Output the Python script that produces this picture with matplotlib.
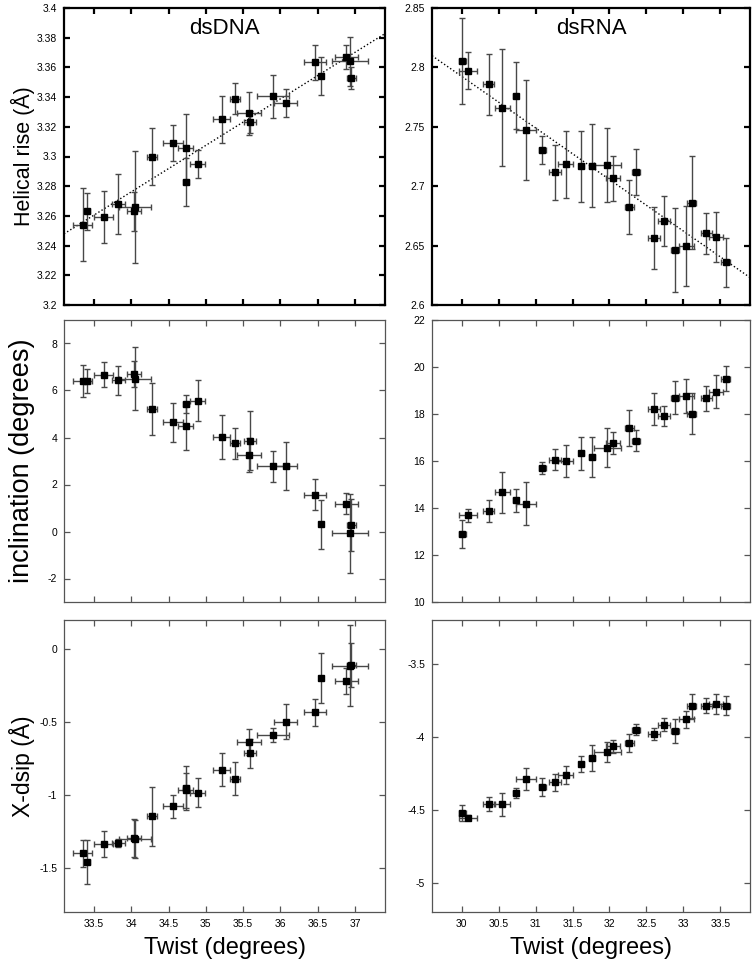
import numpy as np
import matplotlib.pyplot as plt
from matplotlib.ticker import FuncFormatter

plt.rcParams['font.family'] = ['Liberation Sans', 'DejaVu Sans']

# dsDNA (left column), twist is shared by the three panels
dna_twist = [33.35, 33.41, 33.63, 33.83, 34.04, 34.05, 34.28, 34.56, 34.73, 34.74, 34.89,
             35.21, 35.39, 35.58, 35.59, 35.90, 36.07, 36.46, 36.54, 36.88, 36.93, 36.95]
dna_twist_err = [0.125, 0.04, 0.127, 0.085, 0.09, 0.21, 0.07, 0.13, 0.10, 0.04, 0.10,
                 0.11, 0.067, 0.156, 0.085, 0.21, 0.156, 0.147, 0.03, 0.156, 0.24, 0.055]
dna_rise = [3.254, 3.263, 3.259, 3.268, 3.263, 3.266, 3.300, 3.309, 3.3055, 3.283, 3.295,
            3.325, 3.339, 3.329, 3.323, 3.3405, 3.336, 3.3635, 3.354, 3.367, 3.364, 3.353]
dna_rise_err = [0.0245, 0.0125, 0.0175, 0.020, 0.013, 0.0375, 0.019, 0.012, 0.023, 0.016, 0.0095,
                0.016, 0.0103, 0.0146, 0.0075, 0.0145, 0.0095, 0.0118, 0.0127, 0.0084, 0.0165, 0.0075]
dna_incl = [6.40, 6.40, 6.68, 6.44, 6.72, 6.51, 5.21, 4.64, 4.48, 5.42, 5.56,
            4.03, 3.745, 3.25, 3.86, 2.78, 2.78, 1.57, 0.30, 1.19, -0.085, 0.27]
dna_incl_err = [0.67, 0.50, 0.55, 0.62, 0.55, 1.32, 1.10, 0.82, 1.00, 0.39, 0.87,
                0.94, 0.64, 0.73, 1.26, 0.66, 1.03, 0.66, 1.04, 0.43, 1.68, 1.10]
dna_xdisp = [-1.399, -1.459, -1.333, -1.328, -1.29, -1.30, -1.145, -1.076, -0.966, -0.948, -0.982,
             -0.824, -0.886, -0.634, -0.714, -0.589, -0.497, -0.433, -0.199, -0.218, -0.112, -0.108]
dna_xdisp_err = [0.09, 0.15, 0.09, 0.03, 0.13, 0.13, 0.20, 0.08, 0.12, 0.15, 0.10,
                 0.11, 0.115, 0.09, 0.10, 0.05, 0.12, 0.09, 0.17, 0.09, 0.28, 0.15]

# dsRNA (right column)
rna_twist = [30.01, 30.09, 30.37, 30.55, 30.73, 30.87, 31.09, 31.26, 31.41, 31.62, 31.76, 31.97,
             32.05, 32.27, 32.36, 32.60, 32.74, 32.89, 33.04, 33.11, 33.31, 33.44, 33.57]
rna_twist_err = [0.05, 0.12, 0.075, 0.10, 0.03, 0.14, 0.045, 0.08, 0.10, 0.03, 0.04, 0.18,
                 0.095, 0.055, 0.05, 0.085, 0.08, 0.055, 0.10, 0.06, 0.075, 0.10, 0.06]
rna_rise = [2.8054, 2.7973, 2.7857, 2.7661, 2.7762, 2.7473, 2.7305, 2.7117, 2.7184, 2.7167, 2.7173, 2.7181,
            2.7066, 2.6828, 2.712, 2.6564, 2.671, 2.6463, 2.6497, 2.6861, 2.6603, 2.657, 2.6359]
rna_rise_err = [0.0366, 0.0156, 0.026, 0.049, 0.028, 0.042, 0.012, 0.023, 0.028, 0.030, 0.035, 0.031,
                0.019, 0.0227, 0.019, 0.026, 0.021, 0.035, 0.034, 0.039, 0.0175, 0.021, 0.0206]
rna_incl = [12.91, 13.69, 13.875, 14.66, 14.33, 14.19, 15.71, 16.06, 15.99, 16.33, 16.19, 16.57,
            16.77, 17.40, 16.86, 18.21, 17.92, 18.69, 18.78, 18.02, 18.66, 18.95, 19.51]
rna_incl_err = [0.60, 0.27, 0.46, 0.87, 0.48, 0.92, 0.26, 0.44, 0.67, 0.71, 0.85, 0.82,
                0.48, 0.77, 0.45, 0.67, 0.43, 0.71, 0.72, 0.87, 0.52, 0.71, 0.55]
rna_xdisp = [-4.524, -4.553, -4.462, -4.462, -4.382, -4.29, -4.343, -4.313, -4.26, -4.187, -4.146, -4.107,
             -4.066, -4.043, -3.951, -3.981, -3.917, -3.958, -3.880, -3.791, -3.786, -3.775, -3.786]
rna_xdisp_err = [0.054, 0.02, 0.048, 0.08, 0.034, 0.077, 0.06, 0.055, 0.063, 0.057, 0.09, 0.069,
                 0.045, 0.063, 0.04, 0.043, 0.046, 0.082, 0.057, 0.082, 0.054, 0.069, 0.066]

dna_xticks = [33.5, 34, 34.5, 35, 35.5, 36, 36.5, 37]
rna_xticks = [30, 30.5, 31, 31.5, 32, 32.5, 33, 33.5]


def draw_panel(ax, x, xerr, y, yerr, xlim, xticks, ylim, yticks, top_row, fit=False):
    ax.errorbar(x, y, xerr=xerr, yerr=yerr, fmt='s', color='black', ms=5,
                ecolor='#484848', elinewidth=1.0, capsize=2.5, capthick=1.0, zorder=3)
    if fit:
        # dotted linear fit across the whole panel
        coef = np.polyfit(x, y, 1)
        xs = np.array(xlim)
        ax.plot(xs, np.polyval(coef, xs), color='black', ls=':', lw=1.0, zorder=2)
    ax.set_xlim(xlim)
    ax.set_ylim(ylim)
    ax.set_xticks(xticks)
    ax.set_yticks(yticks)
    ax.yaxis.set_major_formatter(FuncFormatter(lambda v, p: '%g' % v))
    ax.xaxis.set_major_formatter(FuncFormatter(lambda v, p: '%g' % v))
    frame = 'black' if top_row else '#555555'
    lw = 1.6 if top_row else 0.9
    for s in ax.spines.values():
        s.set_color(frame)
        s.set_linewidth(lw)
    ax.tick_params(direction='in', top=True, right=True, length=4, width=lw,
                   color=frame, labelsize=7.5, pad=5)


fig = plt.figure(figsize=(7.56, 9.64), dpi=100)
W, H = 756.0, 964.0
col_x = [(64, 385), (432, 750)]
row_y = [(8, 305), (320, 602), (620, 912)]
axes = {}
for r, (t, b) in enumerate(row_y):
    for c, (l, rr) in enumerate(col_x):
        axes[r, c] = fig.add_axes([l / W, 1 - b / H, (rr - l) / W, (b - t) / H])

xl_dna = (33.1, 37.4)
xl_rna = (29.6, 33.9)

draw_panel(axes[0, 0], dna_twist, dna_twist_err, dna_rise, dna_rise_err, xl_dna, dna_xticks,
           (3.2, 3.4), np.arange(3.2, 3.401, 0.02), True, fit=True)
draw_panel(axes[0, 1], rna_twist, rna_twist_err, rna_rise, rna_rise_err, xl_rna, rna_xticks,
           (2.6, 2.85), np.arange(2.6, 2.851, 0.05), True, fit=True)
draw_panel(axes[1, 0], dna_twist, dna_twist_err, dna_incl, dna_incl_err, xl_dna, dna_xticks,
           (-3, 9), [-2, 0, 2, 4, 6, 8], False)
draw_panel(axes[1, 1], rna_twist, rna_twist_err, rna_incl, rna_incl_err, xl_rna, rna_xticks,
           (10, 22), [10, 12, 14, 16, 18, 20, 22], False)
draw_panel(axes[2, 0], dna_twist, dna_twist_err, dna_xdisp, dna_xdisp_err, xl_dna, dna_xticks,
           (-1.8, 0.2), [-1.5, -1, -0.5, 0], False)
draw_panel(axes[2, 1], rna_twist, rna_twist_err, rna_xdisp, rna_xdisp_err, xl_rna, rna_xticks,
           (-5.2, -3.2), [-5, -4.5, -4, -3.5], False)

for r in range(2):
    for c in range(2):
        axes[r, c].tick_params(labelbottom=False)

axes[0, 0].text(0.5, 0.93, 'dsDNA', transform=axes[0, 0].transAxes, ha='center', va='center', fontsize=16)
axes[0, 1].text(0.5, 0.93, 'dsRNA', transform=axes[0, 1].transAxes, ha='center', va='center', fontsize=16)

ylabels = ['Helical rise (Å)', 'inclination (degrees)', 'X-dsip (Å)']
ysizes = [15.5, 19.5, 16.5]
for r in range(3):
    axes[r, 0].set_ylabel(ylabels[r], fontsize=ysizes[r])
    axes[r, 0].yaxis.set_label_coords(-0.09, 0.5)

for c in range(2):
    axes[2, c].set_xlabel('Twist (degrees)', fontsize=17, labelpad=6)

plt.savefig('out.png', dpi=100)
